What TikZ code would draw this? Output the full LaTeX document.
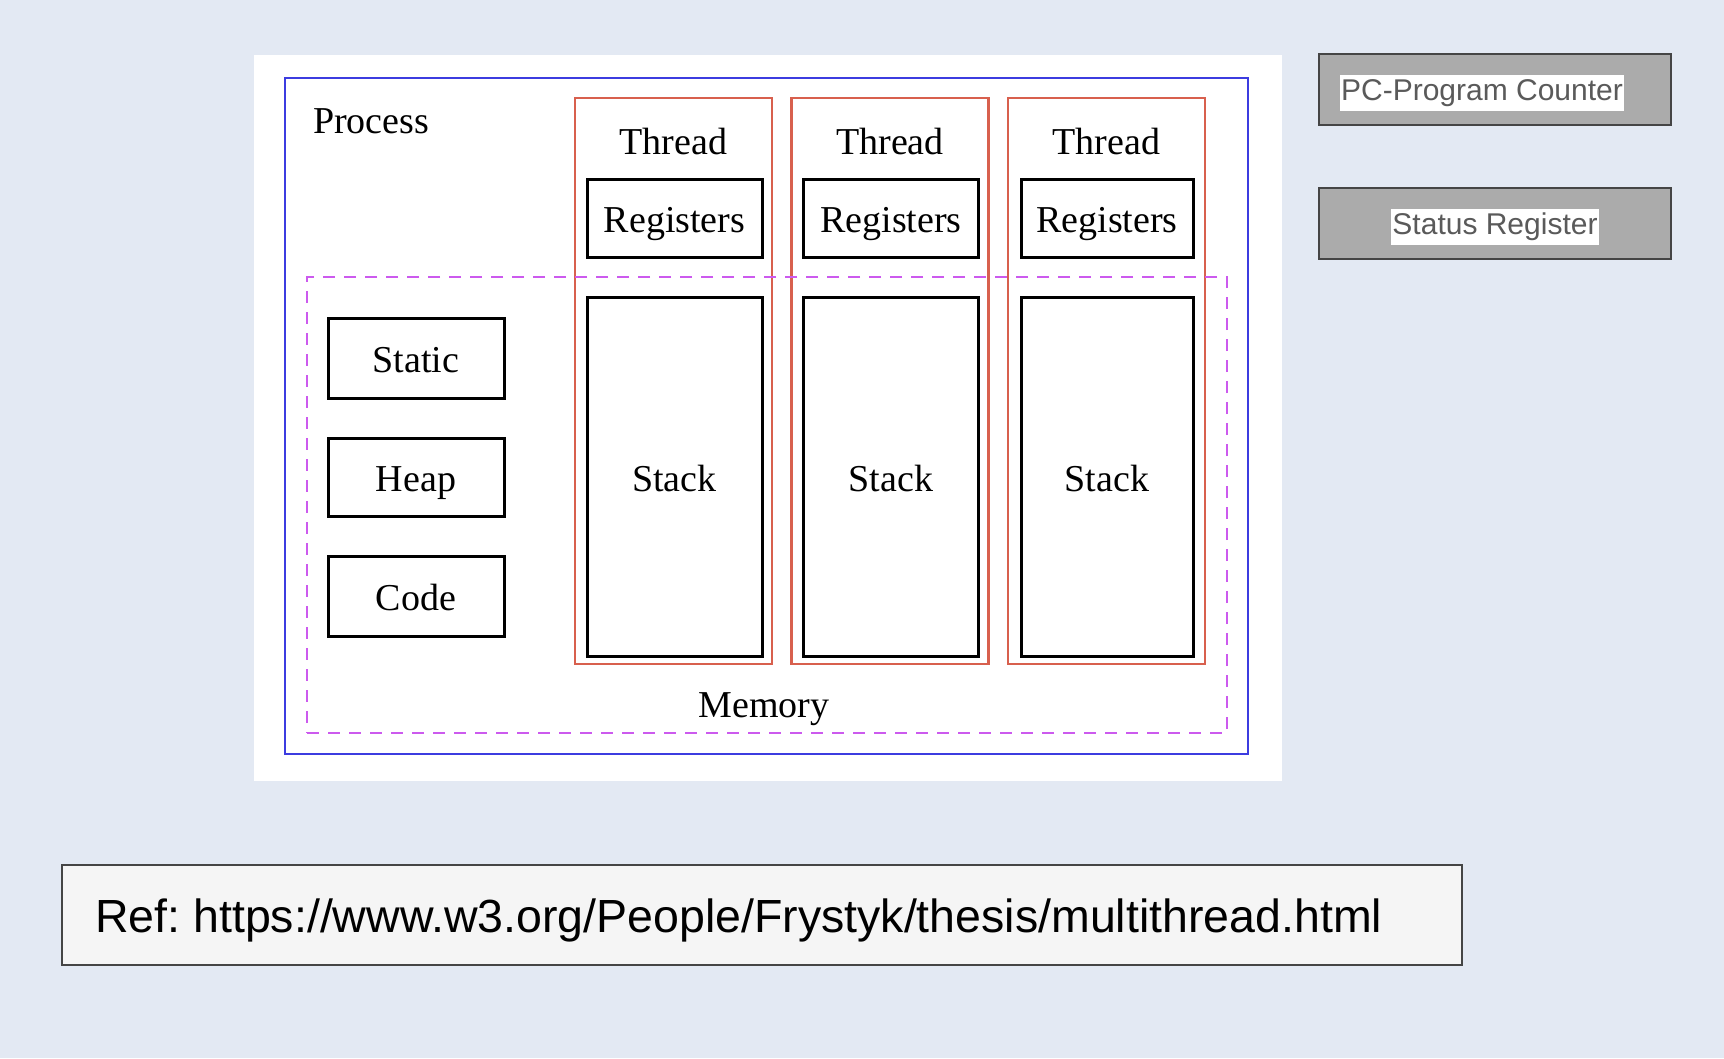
\documentclass[tikz,border=0pt]{standalone}
\usepackage{fontspec}
\setmainfont{Liberation Serif}
\newfontfamily\slidefont{Liberation Sans}
\usepackage{tikz}
\usetikzlibrary{positioning}
\frenchspacing
\definecolor{slidebg}{HTML}{E3E9F3}
\definecolor{procblue}{HTML}{3C3CE0}
\definecolor{threadred}{HTML}{D8604E}
\definecolor{memviolet}{HTML}{CC5AEE}
\definecolor{regfill}{HTML}{ABABAB}
\definecolor{regline}{HTML}{454545}
\definecolor{reftext}{HTML}{5A5A5A}

\begin{document}
\begin{tikzpicture}[x=1pt, y=-1pt,
  every node/.style={font=\fontsize{38}{42}\selectfont, inner sep=0pt},
  serifbase/.style={text height=29pt, text depth=0pt},
  partbox/.style={serifbase, draw=black, line width=3pt, fill=white},
  threadbox/.style={draw=threadred, line width=2.8pt, minimum width=197pt, minimum height=566pt},
  cpubox/.style={draw=regline, line width=2pt, fill=regfill, minimum width=352pt, minimum height=71pt},
  cpulabel/.style={fill=white, text=reftext, inner xsep=1pt, inner ysep=4pt, font=\slidefont\fontsize{30}{34}\selectfont}]
  % slide background
  \fill[slidebg] (0,0) rectangle (1724,1058);
  \useasboundingbox (0,0) rectangle (1724,1058);
  \node[fill=white, minimum width=1028pt, minimum height=726pt] (panel) at (768,418) {};
  \node[draw=procblue, line width=2.8pt, minimum width=963pt, minimum height=676pt] (proc) at (766.5,416) {};
  \node[anchor=west] (proclabel) at (313,121) {Process};

  % threads
  \node[threadbox] (t1) at (673.5,381) {};
  \node[threadbox] (t2) at (890,381) {};
  \node[threadbox] (t3) at (1106.5,381) {};
  \node (t1label) at (673.5,141) {Thread};
  \node (t2label) at (890,141) {Thread};
  \node (t3label) at (1106.5,141) {Thread};
  \node[partbox, minimum width=175pt, minimum height=78pt] (reg1) at (674.5,218) {Registers};
  \node[partbox, minimum width=175pt, minimum height=78pt] (reg2) at (891,218) {Registers};
  \node[partbox, minimum width=172pt, minimum height=78pt] (reg3) at (1107,218) {Registers};
  \node[partbox, minimum width=175pt, minimum height=359pt] (stack1) at (674.5,476.5) {Stack};
  \node[partbox, minimum width=175pt, minimum height=359pt] (stack2) at (891,476.5) {Stack};
  \node[partbox, minimum width=172pt, minimum height=359pt] (stack3) at (1107,476.5) {Stack};

  % shared memory
  \node[draw=memviolet, line width=2.5pt, dash pattern=on 12pt off 9pt,
        minimum width=920pt, minimum height=456pt] (mem) at (767,505) {};
  \node[serifbase] (memlabel) at (764,703) {Memory};
  \node[partbox, minimum width=176pt, minimum height=80pt] (static) at (416,358) {Static};
  \node[partbox, minimum width=176pt, minimum height=78pt] (heap) at (416,477) {Heap};
  \node[partbox, minimum width=176pt, minimum height=80pt] (code) at (416,596) {Code};

  % cpu registers
  \node[cpubox] (pc) at (1495,89.5) {};
  \node[cpulabel] (pclabel) at (1482,93) {PC-Program Counter};
  \node[cpubox] (status) at (1495,223.5) {};
  \node[cpulabel] (statuslabel) at (1495,227) {Status Register};

  % reference
  \node[draw=regline, line width=1.5pt, fill=black!4, minimum width=1400pt, minimum height=100pt] (refbox) at (762,915) {};
  \node[anchor=west, font=\slidefont\fontsize{46.5}{50}\selectfont] (reflabel) at (95,920)
    {Ref: https://www.w3.org/People/Frystyk/thesis/multithread.html};
\end{tikzpicture}
\end{document}
